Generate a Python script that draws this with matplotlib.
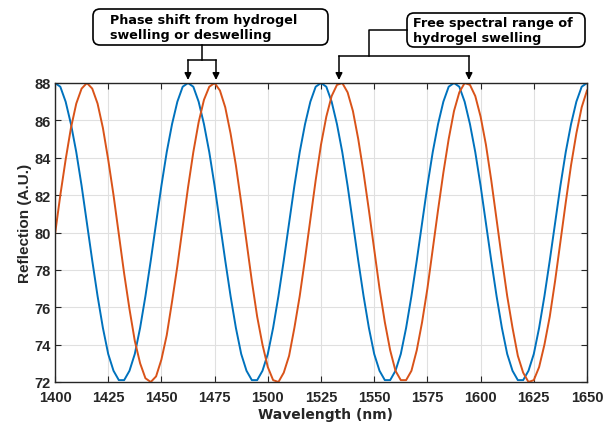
import numpy as np
import matplotlib.pyplot as plt
from matplotlib.patches import FancyBboxPatch

# -------- data -------- #
wavelength = np.linspace(1400, 1650, 101)  # 2.5 nm sampling

reflection_before = [
    88.0, 87.8, 87.0, 85.8, 84.3, 82.5, 80.5, 78.5, 76.6, 74.9, 73.5, 72.6, 72.1,
    72.1, 72.6, 73.5, 74.9, 76.6, 78.5, 80.5, 82.5, 84.3, 85.8, 87.0, 87.8,
    88.0, 87.8, 87.0, 85.8, 84.3, 82.5, 80.5, 78.5, 76.6, 74.9, 73.5, 72.6, 72.1,
    72.1, 72.6, 73.5, 74.9, 76.6, 78.5, 80.5, 82.5, 84.3, 85.8, 87.0, 87.8,
    88.0, 87.8, 87.0, 85.8, 84.3, 82.5, 80.5, 78.5, 76.6, 74.9, 73.5, 72.6, 72.1,
    72.1, 72.6, 73.5, 74.9, 76.6, 78.5, 80.5, 82.5, 84.3, 85.8, 87.0, 87.8,
    88.0, 87.8, 87.0, 85.8, 84.3, 82.5, 80.5, 78.5, 76.6, 74.9, 73.5, 72.6, 72.1,
    72.1, 72.6, 73.5, 74.9, 76.6, 78.5, 80.5, 82.5, 84.3, 85.8, 87.0, 87.8,
    88.0,
]

reflection_after = [
    79.9, 82.0, 83.9, 85.6, 86.9, 87.7, 88.0, 87.7, 86.9, 85.6,
    83.9, 82.0, 79.9, 77.8, 75.9, 74.2, 73.0, 72.2, 72.0, 72.3,
    73.2, 74.5, 76.3, 78.2, 80.3, 82.4, 84.3, 85.9, 87.1, 87.8,
    88.0, 87.6, 86.7, 85.3, 83.6, 81.6, 79.5, 77.4, 75.5, 74.0,
    72.8, 72.1, 72.0, 72.5, 73.4, 74.9, 76.6, 78.6, 80.7, 82.8,
    84.7, 86.2, 87.3, 87.9, 88.0, 87.5, 86.5, 85.0, 83.2, 81.2,
    79.1, 77.0, 75.2, 73.7, 72.6, 72.1, 72.1, 72.6, 73.7, 75.2,
    77.0, 79.1, 81.2, 83.2, 85.0, 86.5, 87.5, 88.0, 87.9, 87.3,
    86.2, 84.7, 82.8, 80.7, 78.6, 76.6, 74.9, 73.4, 72.5, 72.0,
    72.1, 72.8, 74.0, 75.5, 77.4, 79.5, 81.6, 83.6, 85.3, 86.7,
    87.6,
]

x_ticks = list(range(1400, 1651, 25))
y_ticks = list(range(72, 89, 2))

phase_text = 'Phase shift from hydrogel\nswelling or deswelling'
fsr_text = 'Free spectral range of\nhydrogel swelling'

# -------- figure -------- #
W, H = 606, 431
fig = plt.figure(figsize=(W / 100, H / 100), dpi=100)
ax = fig.add_axes([55 / W, 1 - 383 / H, (587 - 55) / W, (383 - 84) / H])

ax.plot(wavelength, reflection_before, color='#0072BD', lw=1.4)
ax.plot(wavelength, reflection_after, color='#D95319', lw=1.4)

ax.set_xlim(1400, 1650)
ax.set_ylim(72, 88)
ax.set_xticks(x_ticks)
ax.set_yticks(y_ticks)
ax.grid(True, color='#e0e0e0', lw=0.8)
ax.set_axisbelow(True)
ax.tick_params(direction='in', top=True, right=True, length=4, color='#262626')
ax.tick_params(axis='x', pad=6)
ax.tick_params(axis='y', pad=3)
for lab in ax.get_xticklabels() + ax.get_yticklabels():
    lab.set_fontweight('bold')
    lab.set_fontfamily('Liberation Sans')
    lab.set_fontsize(10.5)
    lab.set_color('#262626')
for s in ax.spines.values():
    s.set_color('#262626')
    s.set_linewidth(1.0)

ax.set_xlabel('Wavelength (nm)', fontsize=10, fontweight='bold',
              color='#262626')
ax.xaxis.set_label_coords(0.509, -0.085)
ax.set_ylabel('Reflection (A.U.)', fontsize=11, fontweight='bold',
              family='Liberation Sans', color='#262626')
ax.yaxis.set_label_coords(-0.043, 0.532)

# -------- callouts, drawn in pixel space on an overlay -------- #
ov = fig.add_axes([0, 0, 1, 1])
ov.set_xlim(0, W)
ov.set_ylim(H, 0)
ov.axis('off')


def callout_box(x0, y0, x1, y1, text, tx):
    box = FancyBboxPatch((x0, y0), x1 - x0, y1 - y0,
                         boxstyle='round,pad=0,rounding_size=7',
                         fc='white', ec='black', lw=1.2)
    ov.add_patch(box)
    ov.text(tx, (y0 + y1) / 2, text, ha='left', va='center',
            fontsize=9.2, fontweight='bold', linespacing=1.2)


def arrow_down(x, y0, y1):
    ov.annotate('', xy=(x, y1), xytext=(x, y0),
                arrowprops=dict(arrowstyle='-|>', color='black', lw=1.1,
                                mutation_scale=10, shrinkA=0, shrinkB=0))


callout_box(93, 10, 328, 46, phase_text, 110)
ov.plot([202, 202], [46, 61], color='black', lw=1.1)
ov.plot([188, 216], [61, 61], color='black', lw=1.1)
arrow_down(188, 61, 81)
arrow_down(216, 61, 81)

callout_box(407, 14, 585, 48, fsr_text, 413)
ov.plot([407, 369, 369], [31, 31, 57], color='black', lw=1.1)
ov.plot([339, 469], [57, 57], color='black', lw=1.1)
arrow_down(339, 57, 81)
arrow_down(469, 57, 81)

fig.savefig('out.png', dpi=100)
